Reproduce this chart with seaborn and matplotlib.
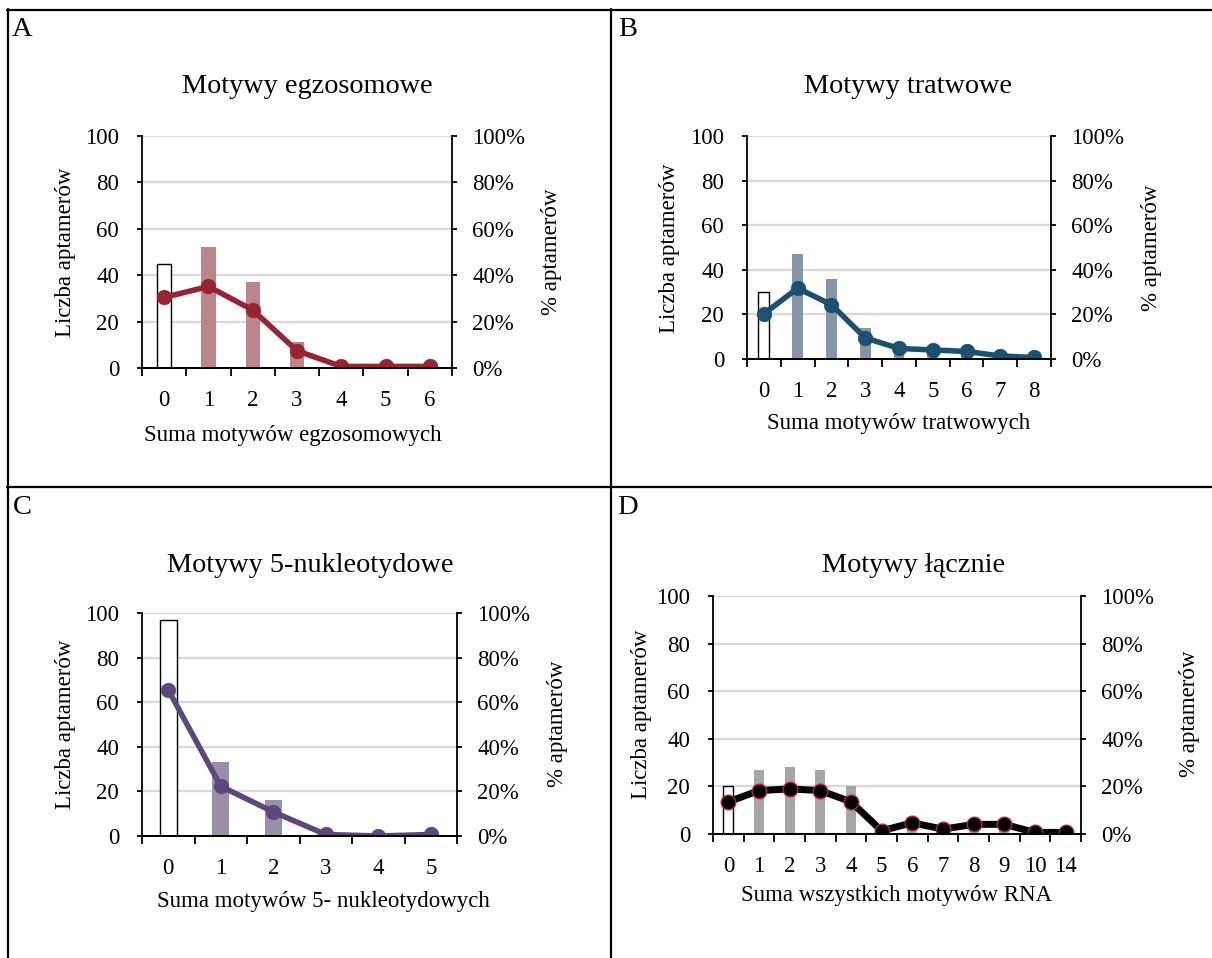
import numpy as np
import pandas as pd
import matplotlib
matplotlib.use("Agg")
import matplotlib.pyplot as plt
import seaborn as sns
from matplotlib.lines import Line2D

sns.set_theme(style="white")
plt.rcParams["font.family"] = ["Liberation Serif", "DejaVu Serif"]
plt.rcParams.update({
    "text.color": "black", "axes.labelcolor": "black",
    "xtick.color": "black", "ytick.color": "black",
    "axes.edgecolor": "black",
})

# Aptamer counts per number of motifs (148 aptamers in every panel)
exo_labels = ["0", "1", "2", "3", "4", "5", "6"]
exo_counts = [45, 52, 37, 11, 1, 1, 1]

raft_labels = ["0", "1", "2", "3", "4", "5", "6", "7", "8"]
raft_counts = [30, 47, 36, 14, 7, 6, 5, 2, 1]

nuc_labels = ["0", "1", "2", "3", "4", "5"]
nuc_counts = [97, 33, 16, 1, 0, 1]

all_labels = ["0", "1", "2", "3", "4", "5", "6", "7", "8", "9", "10", "14"]
all_counts = [20, 27, 28, 27, 20, 2, 7, 3, 6, 6, 1, 1]

W, H = 1212, 958
fig = plt.figure(figsize=(W / 100, H / 100), dpi=100)
fig.patch.set_facecolor("white")

TICK_FS = 16.5
LABEL_FS = 16.5
TITLE_FS = 20.3
LETTER_FS = 20.5


def px_axes(x0, y0, x1, y1):
    return fig.add_axes([x0 / W, 1 - y1 / H, (x1 - x0) / W, (y1 - y0) / H])


def ftext(x, y, s, **kw):
    kw.setdefault("ha", "center")
    kw.setdefault("va", "center")
    fig.text(x / W, 1 - y / H, s, **kw)


def panel(box, labels, counts, bar_color, line_color, line_w, marker_edge=None):
    ax = px_axes(*box)
    n = len(labels)
    total = sum(counts)
    df = pd.DataFrame({
        "cat": labels,
        "count": counts,
        "pct": [100 * c / total for c in counts],
    })
    palette = ["white"] + [bar_color] * (n - 1)
    sns.barplot(data=df, x="cat", y="count", hue="cat", order=labels,
                hue_order=labels, palette=palette, legend=False,
                width=0.32, saturation=1, ax=ax, linewidth=0)
    for i, p in enumerate(ax.patches):
        if i == 0:
            p.set_edgecolor("black")
            p.set_linewidth(1.0)
    ax.set_ylim(0, 100)
    ax.set_yticks(range(0, 101, 20))
    ax.yaxis.grid(True, color="#D9D9D9", lw=1.6)
    ax.set_axisbelow(True)

    ax2 = ax.twinx()
    sns.pointplot(data=df, x="cat", y="pct", order=labels, color=line_color,
                  errorbar=None, markers="o", linestyles="-", ax=ax2,
                  markersize=10.5, linewidth=line_w,
                  markeredgecolor=marker_edge or line_color,
                  markeredgewidth=1.0 if marker_edge else 0.5)
    ax2.set_ylim(0, 100)
    ax2.set_yticks(range(0, 101, 20))
    ax2.set_yticklabels([f"{v}%" for v in range(0, 101, 20)])
    ax2.set_ylabel("")

    for a in (ax, ax2):
        a.set_xlim(-0.5, n - 0.5)
        a.spines["top"].set_visible(False)
        for s in ("left", "right", "bottom"):
            a.spines[s].set_linewidth(1.3)
            a.spines[s].set_color("black")
        a.set_xlabel("")
    ax.set_ylabel("")
    ax.spines["right"].set_visible(False)
    ax2.spines["left"].set_visible(False)

    # ticks at category boundaries, labels at category centres
    ax.set_xticks(np.arange(n + 1) - 0.5)
    ax.set_xticklabels([""] * (n + 1))
    ax.set_xticks(np.arange(n), minor=True)
    ax.set_xticklabels(labels, minor=True)
    ax.tick_params(axis="x", which="major", direction="out", length=5.5,
                   width=1.3, bottom=True)
    ax.tick_params(axis="x", which="minor", length=0, pad=16,
                   labelsize=TICK_FS, bottom=True)
    ax.tick_params(axis="y", direction="out", length=3.5, width=1.3,
                   pad=13, labelsize=TICK_FS, left=True)
    ax2.tick_params(axis="y", direction="out", length=3.5, width=1.3,
                    pad=11, labelsize=TICK_FS, right=True)
    ax2.tick_params(axis="x", which="both", bottom=False, labelbottom=False)
    return ax, ax2


panel((142, 136, 452, 368), exo_labels, exo_counts, "#BC8589", "#962431", 4.0)
panel((747, 136, 1051, 359), raft_labels, raft_counts, "#8596A9", "#1C5070", 4.0)
panel((142, 613, 457, 836), nuc_labels, nuc_counts, "#9A8FA7", "#5E487B", 4.0)
panel((713, 596, 1081, 834), all_labels, all_counts, "#A6A6A6", "black", 5.0,
      marker_edge="#C0203A")

# titles
ftext(307, 87, "Motywy egzosomowe", fontsize=TITLE_FS)
ftext(908, 87, "Motywy tratwowe", fontsize=TITLE_FS)
ftext(310, 565, "Motywy 5-nukleotydowe", fontsize=TITLE_FS)
ftext(914, 565, "Motywy łącznie", fontsize=TITLE_FS)

# axis titles
ftext(293, 436, "Suma motywów egzosomowych", fontsize=LABEL_FS)
ftext(899, 424, "Suma motywów tratwowych", fontsize=LABEL_FS)
ftext(323, 901, "Suma motywów 5- nukleotydowych", fontsize=LABEL_FS)
ftext(897, 895, "Suma wszystkich motywów RNA", fontsize=LABEL_FS)

for x, y in ((66, 252), (669, 248), (66, 724), (642, 714)):
    ftext(x, y, "Liczba aptamerów", fontsize=LABEL_FS, rotation=90)
for x, y in ((552, 252), (1152, 248), (558, 724), (1190, 714)):
    ftext(x, y, "% aptamerów", fontsize=LABEL_FS, rotation=90)

# panel letters
for (x, y), s in zip(((22, 29), (628, 29), (22, 508), (627, 508)), "ABCD"):
    ftext(x, y, s, fontsize=LETTER_FS)


# table borders around the four panels
def hline(y, x0, x1):
    fig.add_artist(Line2D([x0 / W, x1 / W], [1 - y / H, 1 - y / H],
                          transform=fig.transFigure, color="black", lw=1.6))


def vline(x, y0, y1):
    fig.add_artist(Line2D([x / W, x / W], [1 - y0 / H, 1 - y1 / H],
                          transform=fig.transFigure, color="black", lw=1.6))


hline(10, 7, W)
hline(487, 7, W)
vline(8, 9, H)
vline(611, 9, H)

fig.savefig("out.png", dpi=100, facecolor="white")
